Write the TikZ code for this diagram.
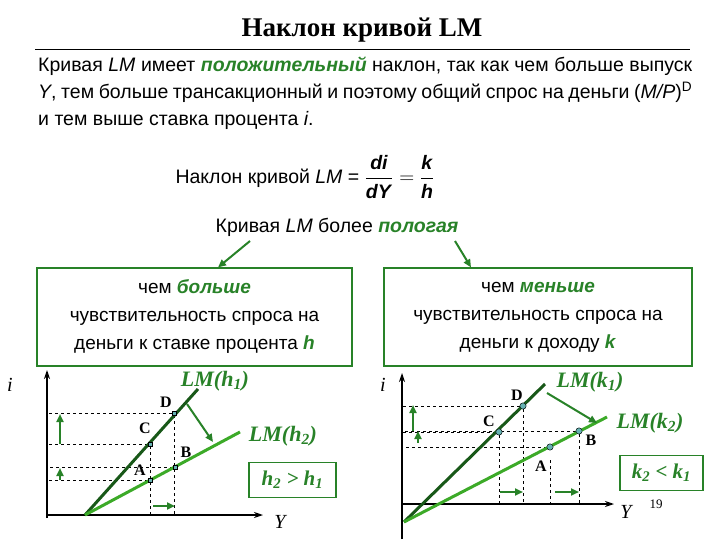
\documentclass[tikz,border=0pt]{standalone}
\usepackage{fontspec}
\setmainfont{Liberation Serif}
\setsansfont{Liberation Sans}
\usetikzlibrary{arrows.meta}
\definecolor{dg}{RGB}{30,110,30}
\definecolor{lg}{RGB}{60,170,40}
\definecolor{tg}{RGB}{40,130,40}
\begin{document}
\begin{tikzpicture}[x=1pt,y=-1pt,
 ax/.style={-{Stealth[length=9pt,width=6pt]},line width=1.2pt},
 dsh/.style={dashed,line width=0.6pt},
 ga/.style={-{Triangle[length=8pt,width=7pt]},draw=tg,fill=tg,line width=2pt},
 l1/.style={draw=dg!80!black,line width=3pt},
 l2/.style={draw=lg,line width=3pt},
 pt/.style={rectangle,fill=teal!60,draw=black,line width=0.3pt,inner sep=2pt},
 pc/.style={circle,fill=teal!60,draw=black,line width=0.3pt,inner sep=2.2pt},
 bx/.style={draw=tg,line width=1.2pt,fill=white},
 lb/.style={font=\fontsize{16}{16}\selectfont\bfseries},
 em/.style={font=\fontsize{22}{22}\selectfont\bfseries\itshape,text=tg}]
\useasboundingbox (0,0) rectangle (720,540);
\node[font=\fontsize{27}{27}\selectfont\bfseries] (title) at (362,30) {Наклон кривой LM};
\draw[line width=1pt] (35,50) coordinate (u1) -- (690,50) coordinate (u2);
\node[text width=654pt,align=justify,font=\sffamily\fontsize{19.5}{27}\selectfont,anchor=north west,inner sep=0pt] (par) at (38,57)
{Кривая \textit{LM} имеет \textcolor{tg}{\textbf{\textit{положительный}}} наклон, так как чем больше выпуск \textit{Y}, тем больше трансакционный и поэтому общий спрос на деньги (\textit{M/P})\textsuperscript{D} и тем выше ставка процента \textit{i}.};
\node[font=\sffamily\fontsize{19.5}{20}\selectfont,anchor=west] (fm) at (172,177) {Наклон кривой \textit{LM} = $\displaystyle\frac{\textsf{\textbf{\textit{di}}}}{\textsf{\textbf{\textit{dY}}}}=\frac{\textsf{\textbf{\textit{k}}}}{\textsf{\textbf{\textit{h}}}}$};
\node[font=\sffamily\fontsize{19.5}{20}\selectfont] (flat) at (337,227) {Кривая \textit{LM} более \textcolor{tg}{\textbf{\textit{пологая}}}};
\node[bx,minimum width=315pt,minimum height=98pt,align=center,font=\sffamily\fontsize{19}{28}\selectfont] (bl) at (194.5,317)
{чем \textcolor{tg}{\textbf{\textit{больше}}}\\чувствительность спроса на\\деньги к ставке процента \textcolor{tg}{\textbf{\textit{h}}}};
\node[bx,minimum width=308pt,minimum height=98pt,align=center,font=\sffamily\fontsize{19}{28}\selectfont] (br) at (538,317)
{чем \textcolor{tg}{\textbf{\textit{меньше}}}\\чувствительность спроса на\\деньги к доходу \textcolor{tg}{\textbf{\textit{k}}}};
\coordinate (fa) at (250,241); \coordinate (fb) at (455,241);
\draw[ga] (fa) -- (bl.north -| 218,0);
\draw[ga] (fb) -- (br.north -| 471,0);
% left graph
\coordinate (lo) at (47,518); \coordinate (ly) at (47,370); \coordinate (lx) at (263,515);
\draw[ax] (lo) -- (ly); \draw[ax] (47,515) -- (lx);
\node[font=\fontsize{20}{20}\selectfont\itshape] (li) at (10,385) {i};
\node[font=\fontsize{20}{20}\selectfont\itshape] (lY) at (280,522) {Y};
\coordinate (O1) at (85,515);
\node[pt] (D1) at (174,413) {}; \node[pt] (C1) at (150,444) {};
\node[pt] (B1) at (175,467) {}; \node[pt] (A1) at (150,480) {};
\foreach \p in {D1,C1,B1,A1} \draw[dsh] (\p) -- (\p -| 47,0);
\draw[dsh] (C1) -- (C1 |- 0,515); \draw[dsh] (D1) -- (D1 |- 0,515);
\draw[l1] (O1) -- (198,389) coordinate (e1);
\draw[l2] (O1) -- (240,432) coordinate (e2);
\foreach \p in {D1,C1,B1,A1} \node[pt] at (\p) {};
\node[lb] at (166,402) {D}; \node[lb] at (145,428) {C};
\node[lb] at (186,452) {B}; \node[lb] at (140,470) {A};
\draw[ga] (60,444) -- (60,414); \draw[ga] (60,480) -- (60,468);
\draw[ga] (153,506) -- (175,506);
\draw[ga] (187,404) -- (213,442);
\node[em] (n1) at (215,381) {LM(h\textsubscript{1})};
\node[em] (n2) at (283,436) {LM(h\textsubscript{2})};
\node[bx,minimum width=87pt,minimum height=35pt,font=\fontsize{21}{21}\selectfont\bfseries\itshape,text=tg] (hb) at (292.5,480) {h\textsubscript{2} > h\textsubscript{1}};
% right graph
\coordinate (ro) at (402,539); \coordinate (ry) at (402,373); \coordinate (rx) at (614,504);
\draw[ax] (ro) -- (ry); \draw[ax] (402,504) -- (rx);
\node[font=\fontsize{20}{20}\selectfont\itshape] (ri) at (383,385) {i};
\node[font=\fontsize{20}{20}\selectfont\itshape] (rY) at (626,512) {Y};
\node[font=\fontsize{13}{13}\selectfont] (pg) at (656,504) {19};
\coordinate (O2) at (404,522);
\node[pc] (D2) at (523,406) {}; \node[pc] (C2) at (499,432) {};
\node[pc] (B2) at (579,431) {}; \node[pc] (A2) at (550,447) {};
\foreach \p in {D2,C2,B2,A2} \draw[dsh] (\p) -- (\p -| 402,0);
\draw[dsh] (C2) -- (C2 |- 0,504); \draw[dsh] (D2) -- (D2 |- 0,504);
\draw[dsh] (B2) -- (B2 |- 0,504); \draw[dsh] (550,460) -- (550,504);
\draw[l1] (O2) -- (545,384) coordinate (e3);
\draw[l2] (O2) -- (607,417) coordinate (e4);
\foreach \p in {D2,C2,B2,A2} \node[pc] at (\p) {};
\node[lb] at (517,395) {D}; \node[lb] at (489,421) {C};
\node[lb] at (591,440) {B}; \node[lb] at (541,466) {A};
\draw[ga] (413,431) -- (413,405); \draw[ga] (418,443) -- (418,431);
\draw[ga] (500,492) -- (523,492); \draw[ga] (555,492) -- (579,492);
\draw[ga] (547,393) -- (597,423);
\node[em] (n3) at (590,382) {LM(k\textsubscript{1})};
\node[em] (n4) at (650,423) {LM(k\textsubscript{2})};
\node[bx,minimum width=83pt,minimum height=35pt,font=\fontsize{21}{21}\selectfont\bfseries\itshape,text=tg] (kb) at (661.5,473) {k\textsubscript{2} < k\textsubscript{1}};
\end{tikzpicture}
\end{document}
